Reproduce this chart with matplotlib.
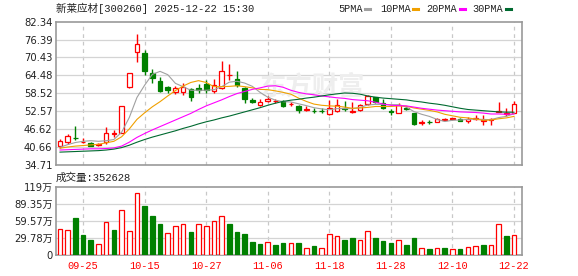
import matplotlib
matplotlib.use("Agg")
import matplotlib.pyplot as plt
from matplotlib.lines import Line2D

plt.rcParams['font.family'] = ['DejaVu Sans', 'Noto Sans CJK SC']

# trading days shown (09-22 .. 12-22)
dates = ["09-22", "09-23", "09-24", "09-25", "09-26", "09-29", "09-30",
         "10-09", "10-10", "10-13", "10-14", "10-15", "10-16", "10-17", "10-20",
         "10-21", "10-22", "10-23", "10-24", "10-27", "10-28", "10-29", "10-30",
         "10-31", "11-03", "11-04", "11-05", "11-06", "11-07", "11-10", "11-11",
         "11-12", "11-13", "11-14", "11-17", "11-18", "11-19", "11-20", "11-21",
         "11-24", "11-25", "11-26", "11-27", "11-28", "12-01", "12-02", "12-03",
         "12-04", "12-05", "12-08", "12-09", "12-10", "12-11", "12-12", "12-15",
         "12-16", "12-17", "12-18", "12-19", "12-22"]

opens = [41.10, 42.37, 43.70, 42.20, 41.90, 41.35, 42.37, 45.10, 45.30, 60.50,
         72.37, 71.81, 65.17, 62.60, 60.60, 59.07, 59.07, 59.85, 60.18, 61.62,
         59.40, 60.18, 64.50, 63.17, 60.18, 56.30, 54.53, 55.86, 55.86, 55.97,
         54.86, 54.30, 52.87, 52.76, 52.75, 51.54, 52.43, 53.64, 52.20, 52.87,
         54.86, 57.19, 55.41, 52.43, 52.09, 53.64, 51.87, 48.55, 48.99, 48.88,
         49.70, 49.90, 49.99, 49.20, 49.99, 49.32, 49.54, 52.40, 51.70, 52.09]
highs = [43.20, 45.00, 47.60, 43.67, 42.34, 42.00, 47.40, 46.30, 54.36, 65.23,
         78.28, 72.92, 66.50, 63.84, 60.96, 60.96, 61.84, 60.18, 61.50, 62.95,
         63.40, 69.27, 68.27, 65.94, 60.74, 57.08, 56.52, 57.63, 56.63, 56.30,
         55.75, 54.64, 54.30, 53.64, 53.60, 56.30, 56.74, 55.97, 55.64, 54.97,
         58.07, 57.41, 56.52, 53.20, 55.19, 54.20, 52.09, 49.66, 49.44, 50.10,
         50.20, 50.43, 50.21, 50.54, 51.43, 51.21, 50.10, 55.60, 53.50, 55.97]
lows = [40.30, 41.70, 42.90, 41.90, 40.80, 40.80, 41.67, 44.10, 45.20, 60.30,
        69.00, 64.60, 62.06, 59.07, 58.50, 58.30, 57.96, 56.08, 58.50, 58.74,
        58.50, 60.07, 62.95, 60.74, 55.19, 55.19, 54.30, 55.64, 55.19, 54.08,
        54.42, 52.09, 52.76, 51.87, 51.90, 51.32, 52.30, 52.76, 52.09, 52.65,
        54.64, 55.41, 53.20, 51.10, 51.87, 52.90, 47.99, 47.88, 48.33, 48.77,
        49.50, 49.44, 49.10, 48.55, 49.66, 47.99, 47.77, 52.30, 51.00, 51.87]
closes = [42.60, 44.30, 43.45, 42.37, 40.95, 41.57, 45.40, 45.30, 54.36, 65.23,
          74.92, 66.05, 63.50, 59.30, 59.74, 60.18, 60.63, 57.41, 59.50, 59.63,
          61.20, 65.83, 64.72, 61.29, 56.52, 55.75, 55.64, 56.74, 56.08, 54.30,
          55.08, 52.98, 53.42, 52.54, 52.60, 53.75, 54.53, 53.42, 52.76, 54.53,
          57.63, 55.75, 53.53, 52.20, 54.60, 53.20, 48.33, 48.88, 48.77, 49.88,
          49.80, 50.10, 49.20, 49.99, 50.21, 49.54, 49.77, 52.60, 51.85, 54.86]

ma5 = [40.5, 41.4, 42.1, 42.5, 42.7, 42.5, 42.7, 43.1, 45.5, 50.4,
       57.1, 61.2, 64.8, 65.8, 64.7, 61.8, 60.7, 59.5, 59.5, 59.5,
       59.7, 60.7, 62.2, 62.5, 61.9, 60.8, 58.8, 57.2, 56.2, 55.7,
       55.6, 55.0, 54.4, 53.7, 53.3, 53.0, 53.4, 53.4, 53.4, 53.8,
       54.6, 54.8, 54.8, 54.7, 54.7, 53.9, 52.4, 51.5, 50.8, 49.8,
       49.1, 49.5, 49.6, 49.8, 49.9, 49.8, 49.7, 50.4, 50.8, 51.7]
ma10 = [40.2, 40.6, 40.9, 41.1, 41.3, 41.5, 42.0, 42.5, 44.0, 46.6,
        49.8, 52.0, 54.0, 55.7, 57.6, 59.4, 60.9, 62.1, 62.7, 62.1,
        60.7, 60.7, 60.8, 61.0, 60.7, 60.3, 59.8, 59.7, 59.3, 58.8,
        58.2, 56.9, 55.8, 54.9, 54.5, 54.3, 54.2, 53.9, 53.5, 53.6,
        53.8, 54.1, 54.1, 54.1, 54.3, 54.2, 53.6, 53.2, 52.8, 52.3,
        51.5, 51.0, 50.5, 50.3, 49.9, 49.5, 49.6, 50.0, 50.3, 50.8]
ma20 = [39.6, 39.7, 39.8, 39.9, 40.0, 40.0, 40.1, 40.3, 40.9, 42.2,
        43.8, 45.1, 46.3, 47.4, 48.5, 49.6, 50.7, 51.8, 53.1, 54.3,
        55.3, 56.3, 57.4, 58.4, 59.1, 59.8, 60.3, 60.9, 61.0, 60.5,
        59.5, 58.8, 58.3, 58.0, 57.6, 57.3, 57.0, 56.8, 56.4, 56.2,
        56.0, 55.5, 54.9, 54.5, 54.4, 54.3, 53.9, 53.5, 53.2, 52.9,
        52.7, 52.5, 52.3, 52.2, 52.1, 51.9, 51.6, 51.6, 51.5, 51.6]
ma30 = [38.9, 39.0, 39.1, 39.2, 39.3, 39.4, 39.6, 39.9, 40.4, 41.2,
        42.2, 43.1, 43.9, 44.6, 45.3, 46.0, 46.8, 47.5, 48.3, 49.0,
        49.6, 50.3, 50.9, 51.6, 52.3, 53.0, 53.7, 54.5, 55.2, 55.8,
        56.2, 56.5, 56.9, 57.2, 57.6, 58.0, 58.3, 58.6, 58.5, 58.2,
        57.6, 57.2, 56.9, 56.7, 56.5, 56.3, 55.9, 55.6, 55.2, 54.9,
        54.5, 54.0, 53.5, 53.1, 52.9, 52.7, 52.5, 52.3, 52.2, 52.2]

# volume in 万 shares, colour flag (1 = up vs previous close)
volumes = [45.0, 43.3, 64.1, 35.4, 27.0, 19.7, 56.8, 43.8, 78.7, 42.1,
           107.3, 86.0, 67.4, 53.9, 38.2, 50.0, 53.4, 40.5, 53.4, 50.0,
           59.0, 68.6, 53.9, 40.5, 37.1, 21.9, 18.5, 23.0, 16.9, 20.2,
           21.4, 20.2, 12.9, 15.2, 12.9, 36.5, 33.2, 27.0, 30.3, 26.4,
           42.1, 30.3, 23.6, 20.2, 26.4, 16.9, 30.3, 12.9, 10.1, 12.9,
           11.8, 10.1, 10.1, 14.6, 16.3, 16.9, 16.9, 53.4, 33.7, 35.26]
vol_up = [1, 1, 0, 0, 0, 1, 1, 0, 1, 1,
          1, 0, 0, 0, 1, 1, 1, 0, 1, 1,
          1, 1, 0, 0, 0, 0, 0, 1, 0, 0,
          1, 0, 1, 0, 1, 1, 1, 0, 0, 1,
          1, 0, 0, 0, 1, 0, 0, 1, 0, 1,
          0, 1, 0, 1, 1, 0, 1, 1, 0, 1]

price_ticks = [34.71, 40.66, 46.62, 52.57, 58.52, 64.48, 70.43, 76.39, 82.34]
vol_ticks = [0, 29.78, 59.57, 89.35, 119.14]
vol_tick_labels = ["0", "29.78万", "59.57万", "89.35万", "119万"]
date_tick_idx = [3, 11, 19, 27, 35, 43, 51, 59]

RED = "#ff0000"
GREEN = "#008000"
BORDER = "#999999"
GRID = "#d4d4d4"

W, H = 578, 276
fig = plt.figure(figsize=(W / 100, H / 100), dpi=100)
ax = fig.add_axes([56 / W, 1 - 164.7 / H, 466 / W, 143 / H])
axv = fig.add_axes([56 / W, 1 - 255 / H, 466 / W, 68.3 / H])

x = list(range(len(closes)))

for a in (ax, axv):
    a.set_xlim(-0.52, 60.04)
    for s in a.spines.values():
        s.set_color(BORDER)
        s.set_linewidth(1.2)
    a.tick_params(length=0, labelsize=7.2, colors="#222222", pad=2.5)
    for i in date_tick_idx:
        a.axvline(i, color="#c8c8c8", lw=0.9, ls=(0, (3, 3)), zorder=0)

ax.set_ylim(34.71, 82.34)
ax.set_yticks(price_ticks)
ax.set_yticklabels([f"{t:.2f}" for t in price_ticks])
for t in price_ticks[1:-1]:
    ax.axhline(t, color=GRID, lw=0.9, zorder=0)
ax.set_xticks([])

# watermark
ax.text(0.55, 0.54, "东方财富", transform=ax.transAxes, ha="center", va="center",
        fontsize=19, color="#eeeeee", fontweight="bold", style="italic",
        family=["Noto Sans CJK SC"], zorder=0.5)

# candles
for i in x:
    up = closes[i] >= opens[i]
    col = RED if up else GREEN
    ax.vlines(i, lows[i], highs[i], color=col, lw=1, zorder=2)
    body = max(abs(closes[i] - opens[i]), 0.08)
    ax.bar(i, body, bottom=min(opens[i], closes[i]), width=0.6,
           facecolor="white" if up else GREEN, edgecolor=col, linewidth=0.9, zorder=3)

ax.plot(x, ma5, color="#a0a0a0", lw=0.8, zorder=4)
ax.plot(x, ma10, color="#f0a000", lw=0.8, zorder=4)
ax.plot(x, ma20, color="#ff00ff", lw=0.8, zorder=4)
ax.plot(x, ma30, color="#006a30", lw=0.8, zorder=4)

# volume
axv.set_ylim(0, 119.14)
axv.set_yticks(vol_ticks)
axv.set_yticklabels(vol_tick_labels)
for t in vol_ticks[1:-1]:
    axv.axhline(t, color=GRID, lw=0.9, zorder=0)
for i in x:
    col = RED if vol_up[i] else GREEN
    axv.bar(i, volumes[i], width=0.6, facecolor="white" if vol_up[i] else GREEN,
            edgecolor=col, linewidth=0.9, zorder=3)
axv.set_xticks(date_tick_idx)
axv.set_xticklabels([dates[i] for i in date_tick_idx], family=["Liberation Mono"],
                    fontsize=7.4, color=RED)
axv.tick_params(axis="x", pad=4.5, colors=RED)

# header texts
fig.text(56 / W, 1 - 8.5 / H, "新莱应材[300260] 2025-12-22 15:30", ha="left", va="center",
         fontsize=7.6, color="#222222", family=["Liberation Mono", "Noto Sans CJK SC"])
fig.text(56 / W, 1 - 177.5 / H, "成交量:352628", ha="left", va="center",
         fontsize=7.6, color="#222222", family=["Liberation Mono", "Noto Sans CJK SC"])

legend_items = [("5PMA", 338, 365, "#a0a0a0"), ("10PMA", 380, 413, "#f0a000"),
                ("20PMA", 426, 460, "#ff00ff"), ("30PMA", 472, 506, "#006a30")]
for label, tx, mx, c in legend_items:
    fig.text(tx / W, 1 - 8.5 / H, label, ha="left", va="center", fontsize=7.4,
             color="#222222", family=["Liberation Mono"])
    fig.add_artist(Line2D([mx / W, (mx + 5) / W], [1 - 8.5 / H, 1 - 8.5 / H],
                          color=c, lw=2.2, transform=fig.transFigure))

fig.savefig("out.png", dpi=100)
